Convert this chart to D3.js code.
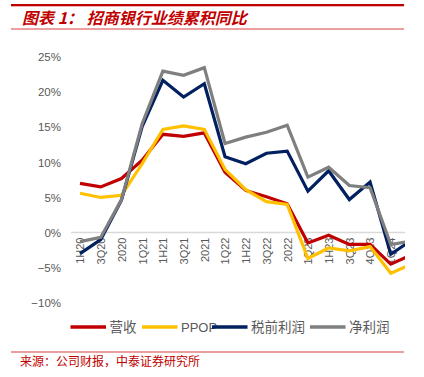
<!DOCTYPE html>
<html>
<head>
<meta charset="utf-8">
<script src="https://cdn.jsdelivr.net/npm/d3@7"></script>
<style>
  body { margin: 0; background: #fff; }
  svg { display: block; }
</style>
</head>
<body>
<div id="chart"></div>
<script>
// categories (report periods) and series, % yoy
var periods = ["1H20", "3Q20", "2020", "1Q21", "1H21", "3Q21", "2021", "1Q22", "1H22",
               "3Q22", "2022", "1Q23", "1H23", "3Q23", "4Q23", "1Q24", "1H24"];
var revenue = [7.0, 6.5, 7.7, 10.3, 14.0, 13.7, 14.2, 8.6, 6.0, 5.1, 4.1, -1.5, -0.4, -1.7, -1.7, -4.5, -3.2];
var ppop = [5.6, 5.0, 5.3, 9.8, 14.7, 15.2, 14.7, 9.0, 6.1, 4.4, 4.0, -3.7, -2.2, -2.6, -2.0, -5.8, -4.5];
var preTax = [-3.0, -1.0, 4.6, 15.1, 21.7, 19.3, 21.2, 10.8, 9.8, 11.3, 11.6, 5.9, 8.8, 4.7, 7.2, -3.1, -1.1];
var netProfit = [-1.3, -0.7, 4.7, 15.5, 23.0, 22.4, 23.5, 12.7, 13.6, 14.3, 15.3, 7.9, 9.3, 6.7, 6.4, -1.7, -1.2];
var yTicks = [25, 20, 15, 10, 5, 0, -5, -10];

var seriesNames = ["营收", "PPOP", "税前利润", "净利润"];
var seriesColors = ["#C00000", "#FFC000", "#002060", "#7F7F7F"];

function init() {
  var w = 424, h = 377;
  var svg = d3.select("#chart").append("svg")
    .attr("width", w).attr("height", h);

  var red = "#C00000";
  var grey = "#595959";

  // header
  svg.append("rect").attr("x", 11).attr("y", 4).attr("width", 393).attr("height", 2.3).attr("fill", red);
  svg.append("text")
    .attr("x", 22).attr("y", 24)
    .attr("fill", red)
    .style("font-family", "'Noto Sans CJK SC', sans-serif")
    .style("font-size", "16px")
    .style("font-weight", "bold")
    .style("font-style", "italic")
    .text("图表 1： 招商银行业绩累积同比");
  svg.append("rect").attr("x", 11).attr("y", 28.5).attr("width", 393).attr("height", 1).attr("fill", "#D84040");

  var xScale = d3.scalePoint().domain(periods).range([80, 411.5]);
  var yScale = d3.scaleLinear().domain([-10, 25]).range([302.7, 57.1]);

  // y axis labels only
  var yAxis = d3.axisLeft(yScale).tickValues(yTicks).tickSize(0).tickPadding(0)
    .tickFormat(function(d) { return (d < 0 ? "\u2212" + (-d) : d) + "%"; });
  var gy = svg.append("g").attr("transform", "translate(61,0)").call(yAxis);
  gy.select(".domain").remove();
  gy.selectAll("text")
    .attr("fill", grey)
    .style("font-family", "'Liberation Sans', Arial, sans-serif")
    .style("font-size", "11.5px");

  // clip to the visible plot
  svg.append("clipPath").attr("id", "plotClip")
    .append("rect").attr("x", 60).attr("y", 40).attr("width", 345).attr("height", 280);
  var plot = svg.append("g").attr("clip-path", "url(#plotClip)");

  // zero line
  plot.append("line")
    .attr("x1", 71).attr("x2", 405)
    .attr("y1", yScale(0)).attr("y2", yScale(0))
    .attr("stroke", "#D9D9D9").attr("stroke-width", 1.5);

  // x labels next to zero line
  var xAxis = d3.axisBottom(xScale).tickSize(0).tickPadding(0);
  var gx = plot.append("g").attr("transform", "translate(0," + yScale(0) + ")").call(xAxis);
  gx.select(".domain").remove();
  gx.selectAll("text")
    .attr("fill", grey)
    .attr("transform", "rotate(-90)")
    .attr("text-anchor", "end")
    .attr("x", -5).attr("y", 0).attr("dy", "0.35em")
    .style("font-family", "'Liberation Sans', Arial, sans-serif")
    .style("font-size", "11px");

  var line = d3.line()
    .x(function(d, i) { return xScale(periods[i]); })
    .y(function(d) { return yScale(d); });

  [revenue, ppop, preTax, netProfit].forEach(function(s, k) {
    plot.append("path")
      .datum(s)
      .attr("d", line)
      .attr("fill", "none")
      .attr("stroke", seriesColors[k])
      .attr("stroke-width", 3.2)
      .attr("stroke-linejoin", "miter");
  });

  // legend
  var legendX = [70.5, 142, 212, 310];
  var lg = svg.append("g");
  seriesNames.forEach(function(n, k) {
    lg.append("line")
      .attr("x1", legendX[k]).attr("x2", legendX[k] + 35.5)
      .attr("y1", 327).attr("y2", 327)
      .attr("stroke", seriesColors[k]).attr("stroke-width", 3.5);
    lg.append("text")
      .attr("x", legendX[k] + 39).attr("y", 331.5)
      .attr("fill", grey)
      .style("font-family", k == 1 ? "'Liberation Sans Narrow', 'Arial Narrow', 'Liberation Sans', sans-serif" : "'Noto Sans CJK SC', sans-serif")
      .style("font-size", k == 1 ? "13px" : "13.5px")
      .text(n);
  });

  // footer
  svg.append("rect").attr("x", 11).attr("y", 351.5).attr("width", 393).attr("height", 1).attr("fill", "#D84040");
  svg.append("text")
    .attr("x", 20).attr("y", 366)
    .attr("fill", red)
    .style("font-family", "'Noto Sans CJK SC', sans-serif")
    .style("font-size", "12px")
    .text("来源：公司财报，中泰证券研究所");
}

window.onload = init;
</script>
</body>
</html>
